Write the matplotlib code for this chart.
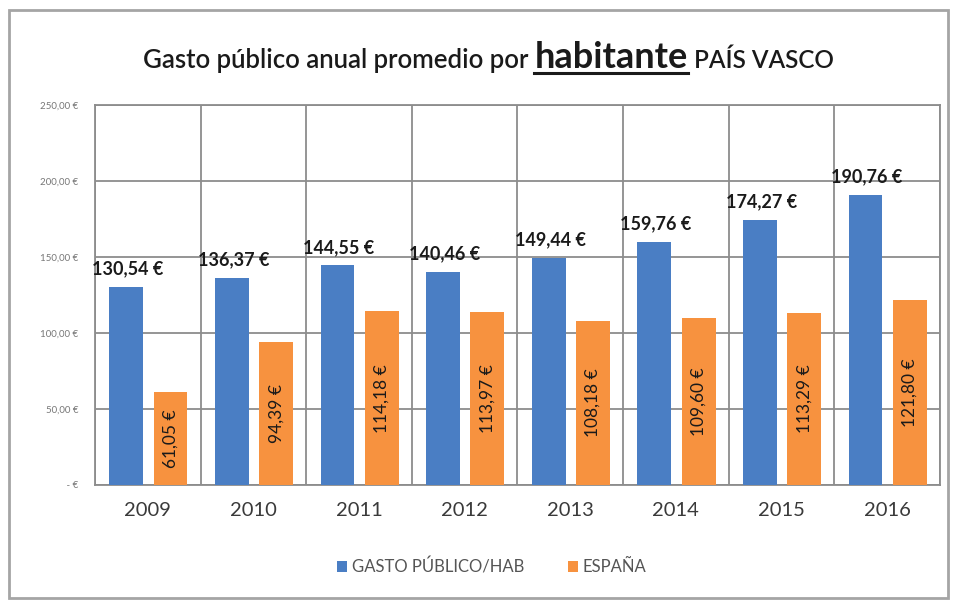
import numpy as np
import matplotlib
matplotlib.use("Agg")
import matplotlib.pyplot as plt
from matplotlib.patches import Rectangle
from matplotlib.lines import Line2D

plt.rcParams['font.family'] = ['Lato', 'DejaVu Sans']

years = ['2009', '2010', '2011', '2012', '2013', '2014', '2015', '2016']
gasto_hab = [130.54, 136.37, 144.55, 140.46, 149.44, 159.76, 174.27, 190.76]
espana = [61.05, 94.39, 114.18, 113.97, 108.18, 109.60, 113.29, 121.80]
y_ticks = [0, 50, 100, 150, 200, 250]
y_tick_labels = [' - €', '50,00 €', '100,00 €', '150,00 €', '200,00 €', '250,00 €']

blue = '#4a7ec4'
orange = '#f7923f'


def eur(v):
    return f'{v:.2f}'.replace('.', ',') + ' €'


W, H = 954, 601
fig = plt.figure(figsize=(W / 100, H / 100), dpi=100)
ax = fig.add_axes([95 / W, 1 - 485 / H, (940 - 95) / W, (485 - 105) / H])

x = np.arange(len(years))
ax.bar(x - 0.205, gasto_hab, width=0.32, color=blue, zorder=3, label='GASTO PÚBLICO/HAB')
ax.bar(x + 0.215, espana, width=0.32, color=orange, zorder=3, label='ESPAÑA')

for xi, v in zip(x, gasto_hab):
    ax.annotate(eur(v), (xi - 0.19, v), xytext=(0, 18), textcoords='offset pixels',
                ha='center', va='center', fontsize=13, fontweight='bold', color='#1a1a1a', zorder=4)
for xi, v in zip(x, espana):
    ax.text(xi + 0.215, v / 2, eur(v), rotation=90, ha='center', va='center',
            fontsize=12.5, color='#1a1a1a', zorder=4)

ax.set_xlim(-0.5, len(years) - 0.5)
ax.set_ylim(0, 250)
ax.set_yticks(y_ticks)
ax.set_yticklabels(y_tick_labels, fontsize=7, color='#777777')
ax.set_xticks(x)
ax.set_xticklabels(years, fontsize=14.5, color='#3a3a3a')
ax.tick_params(axis='y', length=0, pad=12)
ax.tick_params(axis='x', length=0, pad=12)

# category separators + horizontal grid
for b in np.arange(-0.5, len(years), 1.0):
    ax.axvline(b, color='#8c8c8c', lw=1.3, zorder=1)
ax.yaxis.grid(True, color='#8c8c8c', lw=1.3, zorder=1)
ax.set_axisbelow(True)
for s in ax.spines.values():
    s.set_color('#8c8c8c')
    s.set_linewidth(1.3)

# legend
leg = fig.legend(loc='center', bbox_to_anchor=(492 / W, 1 - 567 / H), ncol=2, frameon=False,
                 fontsize=12, handlelength=0.6, handleheight=0.6, handletextpad=0.3,
                 columnspacing=2.6)
for t in leg.get_texts():
    t.set_color('#555555')

# title built from three pieces on one baseline
base_y = 1 - 68 / H
t1 = fig.text(0, base_y, 'Gasto público anual promedio por ', fontsize=18.5, fontweight='semibold',
              color='#1a1a1a', va='baseline')
t2 = fig.text(0, base_y, 'habitante', fontsize=26, fontweight='bold', color='#1a1a1a', va='baseline')
t3 = fig.text(0, base_y, ' PAÍS VASCO', fontsize=17.5, fontweight='semibold',
              color='#1a1a1a', va='baseline')
fig.canvas.draw()
r = fig.canvas.get_renderer()
widths = [t.get_window_extent(r).width for t in (t1, t2, t3)]
x0 = 488 - sum(widths) / 2
for t, w in zip((t1, t2, t3), widths):
    t.set_x(x0 / W)
    x0 += w
fig.canvas.draw()
e2 = t2.get_window_extent(r)
fig.add_artist(Line2D([e2.x0 / W, e2.x1 / W], [base_y - 5 / H, base_y - 5 / H],
                      color='#1a1a1a', lw=2.2, transform=fig.transFigure))

# outer frame
fig.add_artist(Rectangle((9 / W, 3 / H), (948 - 9) / W, (591 - 3) / H, transform=fig.transFigure,
                         fill=False, edgecolor='#a5a5a5', lw=2))

fig.savefig('out.png', dpi=100)
